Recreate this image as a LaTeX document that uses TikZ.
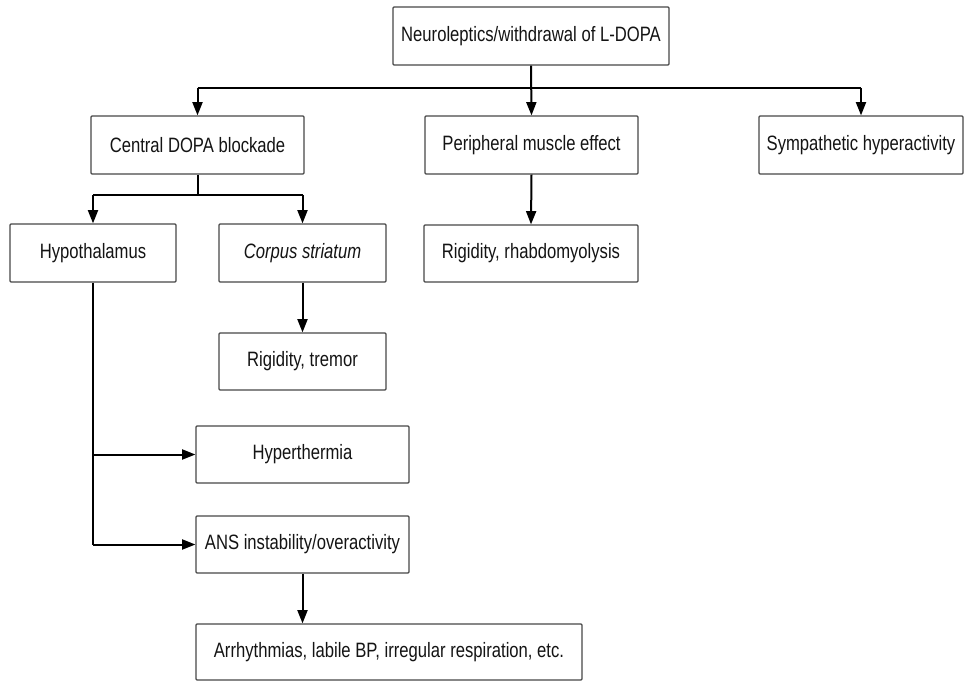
\documentclass[tikz,border=0pt]{standalone}
\usepackage{fontspec}
\setmainfont[FakeStretch=0.8]{Liberation Sans}
\usetikzlibrary{arrows.meta}
\begin{document}
\begin{tikzpicture}[x=0.75pt,y=-0.75pt,
  box/.style={draw=black!72,line width=0.9pt,rounded corners=0.8pt,fill=white,
    font=\fontsize{15.6}{18}\selectfont,text=black!92,align=center,inner sep=0pt},
  conn/.style={draw=black,line width=1.5pt},
  arr/.style={conn,-{Triangle[width=7.5pt,length=10pt]}},
  busline/.style={draw=black,line width=1.9pt}]
\useasboundingbox (0,0) rectangle (964,681);
% nodes
\node[box,minimum width=207pt,minimum height=43.5pt] (top) at (531,36) {Neuroleptics/withdrawal of L-DOPA};
\node[box,minimum width=159.75pt,minimum height=43.5pt] (central) at (197.5,145) {Central DOPA blockade};
\node[box,minimum width=159.75pt,minimum height=43.5pt] (periph) at (531.5,145) {Peripheral muscle effect};
\node[box,minimum width=153pt,minimum height=43.5pt] (symp) at (861,145) {Sympathetic hyperactivity};
\node[box,minimum width=124.5pt,minimum height=43.5pt] (hypo) at (93,253) {Hypothalamus};
\node[box,minimum width=125.25pt,minimum height=43.5pt] (corpus) at (302.5,253) {\itshape Corpus striatum};
\node[box,minimum width=160.5pt,minimum height=42.75pt] (rhabdo) at (531,253.5) {Rigidity, rhabdomyolysis};
\node[box,minimum width=125.25pt,minimum height=42.75pt] (tremor) at (302.5,361.5) {Rigidity, tremor};
\node[box,minimum width=159.75pt,minimum height=42.75pt] (hyper) at (302.5,454.5) {Hyperthermia};
\node[box,minimum width=159.75pt,minimum height=42.75pt] (ans) at (302.5,544.5) {ANS instability/overactivity};
\node[box,minimum width=289.5pt,minimum height=42pt] (arrh) at (389,652) {Arrhythmias, labile BP, irregular respiration, etc.};
% coordinates
\coordinate (bus) at (0,88);
\coordinate (bus2) at (0,195);
% top bus
\draw[busline] (central.north |- bus) -- (symp.north |- bus);
\draw[arr] (top.south) -- (periph.north);
\draw[arr] (central.north |- bus) -- (central.north);
\draw[arr] (symp.north |- bus) -- (symp.north);
% central split
\draw[conn] (central.south) -- (central.south |- bus2);
\draw[busline] (hypo.north |- bus2) -- (corpus.north |- bus2);
\draw[arr] (hypo.north |- bus2) -- (hypo.north);
\draw[arr] (corpus.north |- bus2) -- (corpus.north);
% other vertical arrows
\draw[arr] (periph.south) -- (rhabdo.north);
\draw[arr] (corpus.south) -- (tremor.north);
% hypothalamus branch
\draw[conn] (hypo.south) -- (hypo.south |- ans.west);
\draw[arr] (hypo.south |- hyper.west) -- (hyper.west);
\draw[arr] (hypo.south |- ans.west) -- (ans.west);
\draw[arr] (ans.south) -- (ans.south |- arrh.north);
\end{tikzpicture}
\end{document}
